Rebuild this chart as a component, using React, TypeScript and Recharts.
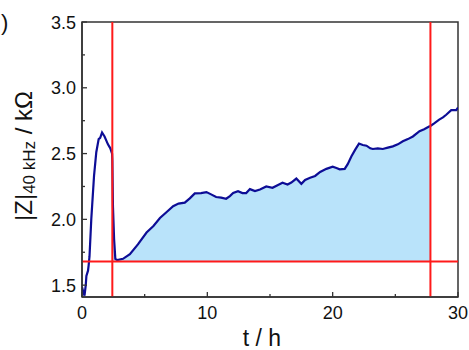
import React from "react";
import {
  ComposedChart,
  Line,
  Area,
  XAxis,
  YAxis,
  ReferenceLine,
  ReferenceArea,
  Customized,
} from "recharts";

const tHours = [
  0, 0.1, 0.2, 0.3, 0.35, 0.48, 0.53, 0.6, 0.74, 0.96, 1.14, 1.33, 1.45, 1.6, 1.8, 2.07, 2.26, 2.4, 2.42,
  2.47, 2.56, 2.66, 2.81, 3.27, 3.82, 4.46, 5.15, 5.7, 6.22, 6.8, 7.27, 7.7, 8.2, 8.6, 9.0, 9.5, 9.93,
  10.3, 10.7, 11.1, 11.5, 11.8, 12.06, 12.45, 12.8, 13.1, 13.4, 13.8, 14.2, 14.7, 15.2, 15.6, 16.0, 16.4,
  16.7, 17.1, 17.5, 17.8, 18.2, 18.6, 19.0, 19.5, 20.0, 20.3, 20.56, 20.96, 21.2, 21.5, 21.8, 22.1, 22.4,
  22.7, 23.0, 23.2, 23.6, 24.0, 24.4, 24.8, 25.2, 25.6, 26.0, 26.4, 26.93, 27.3, 27.73, 27.8, 28.1, 28.5,
  28.8, 29.06, 29.46, 29.86, 30,
];

const zValues = [
  1.485, 1.45, 1.42, 1.5, 1.57, 1.61, 1.65, 1.72, 2.0, 2.33, 2.51, 2.61, 2.62, 2.66, 2.63, 2.57, 2.54, 2.5, 2.45,
  2.1, 1.85, 1.7, 1.69, 1.7, 1.735, 1.81, 1.9, 1.95, 2.01, 2.06, 2.1, 2.12, 2.127, 2.16, 2.197, 2.2, 2.207,
  2.19, 2.17, 2.165, 2.157, 2.177, 2.2, 2.214, 2.2, 2.2, 2.23, 2.215, 2.227, 2.25, 2.24, 2.26, 2.278, 2.265,
  2.28, 2.31, 2.27, 2.3, 2.316, 2.33, 2.36, 2.384, 2.4, 2.39, 2.38, 2.384, 2.42, 2.48, 2.53, 2.576, 2.565,
  2.56, 2.54, 2.535, 2.54, 2.535, 2.545, 2.555, 2.57, 2.593, 2.61, 2.63, 2.67, 2.685, 2.707, 2.71, 2.73, 2.758,
  2.775, 2.795, 2.83, 2.83, 2.85,
];

const aucStart = 2.42;
const aucEnd = 27.8;
const baseline = 1.68;

const xTicks = [0, 5, 10, 15, 20, 25, 30];
const xLabelTicks = [0, 10, 20, 30];
const yTicks = [1.5, 1.75, 2.0, 2.25, 2.5, 2.75, 3.0, 3.25, 3.5];
const yLabelTicks = ["1.5", "2.0", "2.5", "3.0", "3.5"];

const data = tHours.map((t, i) => ({
  t,
  z: zValues[i],
  auc: t >= aucStart && t <= aucEnd ? [baseline, zValues[i]] : null,
}));

const FONT = "'Liberation Sans', Arial, sans-serif";
const AXIS = "#333";

const XTick = (props: any) => {
  const { x, y, payload } = props;
  const v = payload.value;
  const major = xLabelTicks.includes(v);
  return (
    <g>
      <line x1={x} x2={x} y1={y} y2={y - (major ? 5 : 3)} stroke={AXIS} strokeWidth={1.3} />
      {major && (
        <text x={x} y={y + 22} textAnchor="middle" fontSize={18} fontFamily={FONT} fill="#111">
          {v}
        </text>
      )}
    </g>
  );
};

const YTick = (props: any) => {
  const { x, y, payload } = props;
  const v = payload.value;
  const label = v.toFixed(1);
  const major = yLabelTicks.includes(label) && Math.abs(v * 2 - Math.round(v * 2)) < 1e-6;
  return (
    <g>
      <line x1={x} x2={x + (major ? 5 : 3)} y1={y} y2={y} stroke={AXIS} strokeWidth={1.3} />
      {major && (
        <text x={x - 6} y={y + 6.5} textAnchor="end" fontSize={18} fontFamily={FONT} fill="#111">
          {label}
        </text>
      )}
    </g>
  );
};

const Labels = () => (
  <g>
    <text x={1} y={30} fontSize={22} fontFamily={FONT} fill="#111">)</text>
    <text x={262} y={346} textAnchor="middle" fontSize={23} fontFamily={FONT} fill="#111">
      t / h
    </text>
    <text
      transform="translate(32,156) rotate(-90)"
      textAnchor="middle"
      fontFamily={FONT}
      fill="#111"
      fontSize={24}
    >
      <tspan>|Z|</tspan>
      <tspan fontSize={17} dy={3}>40 kHz</tspan>
      <tspan dy={-3}> / kΩ</tspan>
    </text>
    <text x={343} y={221} textAnchor="middle" fontSize={17} fontFamily={FONT} fill="#ff0000">
      AUC 24 h
    </text>
  </g>
);

export default function App() {
  return (
    <div style={{ position: "absolute", left: 0, top: 0, background: "#fff" }}>
      <ComposedChart
        width={469}
        height={350}
        data={data}
        margin={{ top: 22, right: 11, bottom: 0, left: 0 }}
      >
        <XAxis
          dataKey="t"
          type="number"
          domain={[0, 30]}
          ticks={xTicks}
          interval={0}
          tickSize={0}
          tickMargin={0}
          tickLine={false}
          height={53}
          axisLine={{ stroke: AXIS, strokeWidth: 1.5 }}
          tick={<XTick />}
          allowDataOverflow
        />
        <YAxis
          type="number"
          domain={[1.41, 3.5]}
          ticks={yTicks}
          interval={0}
          tickSize={0}
          tickMargin={0}
          tickLine={false}
          width={82}
          axisLine={{ stroke: AXIS, strokeWidth: 1.5 }}
          tick={<YTick />}
          allowDataOverflow
        />
        <Area
          dataKey="auc"
          type="linear"
          stroke="none"
          fill="#b9e3fa"
          fillOpacity={1}
          isAnimationActive={false}
          connectNulls={false}
          activeDot={false}
        />
        <Line
          dataKey="z"
          type="linear"
          stroke="#0d0d96"
          strokeWidth={2.2}
          dot={false}
          activeDot={false}
          isAnimationActive={false}
        />
        <ReferenceLine x={aucStart} stroke="#ff1a1a" strokeWidth={2} />
        <ReferenceLine x={aucEnd} stroke="#ff1a1a" strokeWidth={2} />
        <ReferenceLine y={baseline} stroke="#ff1a1a" strokeWidth={2} />
        <ReferenceArea x1={0} x2={30} y1={1.41} y2={3.5} fill="none" stroke={AXIS} strokeWidth={1.5} fillOpacity={0} />
        <Customized component={Labels} />
      </ComposedChart>
    </div>
  );
}
